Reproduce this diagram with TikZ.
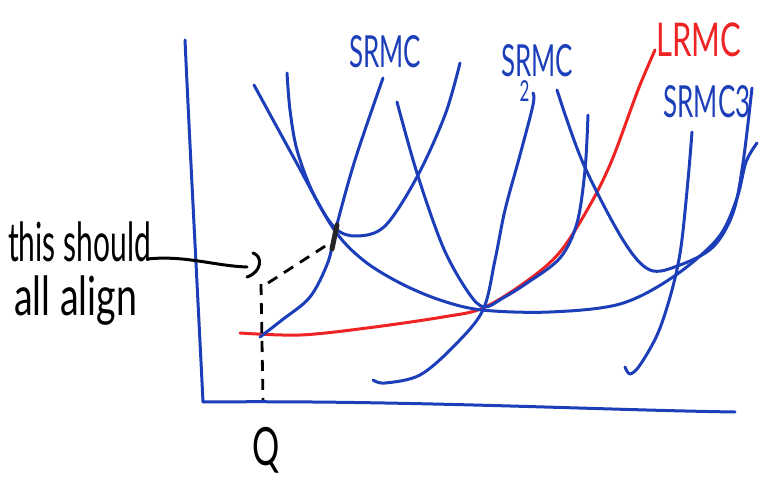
\documentclass[tikz,border=0pt]{standalone}
\usepackage{fontspec}
\usepackage{graphicx}
\setmainfont{Lato}
\definecolor{pen}{RGB}{28,62,185}
\definecolor{redpen}{RGB}{238,35,35}
\newcommand{\tall}[1]{\scalebox{1}[1.7]{#1}}
\begin{document}
\begin{tikzpicture}[x=1pt,y=-1pt,
  bl/.style={draw=pen,line width=3pt,line cap=round,line join=round},
  rd/.style={draw=redpen,line width=3pt,line cap=round,line join=round},
  bk/.style={draw=black,line width=3pt,line cap=round,line join=round},
  dsh/.style={draw=black,line width=2.8pt,dash pattern=on 11pt off 8pt},
  lab/.style={font=\fontsize{26}{28}\selectfont,text=pen,inner sep=0pt},
  note/.style={font=\fontsize{30}{32}\selectfont,text=black,inner sep=0pt}]
\useasboundingbox (0,0) rectangle (766,487);
% axes
\coordinate (ytop) at (185,40);
\coordinate (orig) at (203,402);
\coordinate (xend) at (735,412);
\draw[bl] (ytop) .. controls (190,150) and (198,300) .. (orig) .. controls (400,400) and (600,410) .. (xend);
% LRMC
\draw[rd] plot[smooth,tension=0.55] coordinates {(240,333) (300,335) (367,328) (443,317) (483,308) (527,281) (560,252) (590,205) (612,160) (638,90) (655,50)};
% long-run average cost
\draw[bl] plot[smooth,tension=0.55] coordinates {(254,85) (295,160) (333,228) (363,260) (400,283) (440,300) (482,310) (550,312) (620,304) (673,277) (718,238) (737,198) (746,162) (757,143)};
% SRAC1
\draw[bl] plot[smooth,tension=0.55] coordinates {(287,73) (290,110) (297,150) (313,193) (335,228) (357,236) (385,226) (417,177) (445,115) (460,63)};
% SRMC1
\draw[bl] plot[smooth,tension=0.55] coordinates {(260,337) (282,320) (310,297) (328,262) (336,228) (355,160) (383,78)};
% SRAC2
\draw[bl] plot[smooth,tension=0.55] coordinates {(397,102) (417,173) (443,247) (468,292) (484,307) (503,298) (527,283) (560,258) (577,223) (585,170) (588,115)};
% SRMC2
\draw[bl] plot[smooth,tension=0.55] coordinates {(373,380) (385,383) (420,375) (455,345) (483,310) (495,260) (505,210) (520,155) (533,105) (533,93)};
% SRAC3
\draw[bl] plot[smooth,tension=0.55] coordinates {(557,90) (583,163) (623,240) (650,270) (680,265) (713,247) (733,213) (743,163) (752,88)};
% SRMC3
\draw[bl] plot[smooth,tension=0.55] coordinates {(692,132) (688,180) (681,247) (672,290) (658,333) (640,365) (630,374) (625,367)};
% labels
\node[lab] (s1) at (385,52) {\tall{SRMC}};
\node[lab] (s2) at (537,73) {\tall{SR\rlap{\kern-0.45em\raisebox{-1.15ex}{\fontsize{17}{17}\selectfont 2}}MC}};
\node[lab] (s3) at (707,102) {\tall{SRMC3}};
\node[lab,text=redpen,font=\fontsize{31}{33}\selectfont] (lr) at (699,40) {\scalebox{1}[1.5]{LRMC}};
% note
\node[note,anchor=south west] (n1) at (8,262) {\scalebox{1}[1.8]{this should}};
\node[note,anchor=north west] (n2) at (14,276) {\scalebox{1.25}[1.8]{all align}};
\coordinate (a0) at (147,259);
\coordinate (a1) at (247,267);
\coordinate (h0) at (253,253);
\coordinate (h1) at (247,277);
\draw[bk] (a0) .. controls (185,255) and (215,266) .. (a1);
\draw[bk] (h0) .. controls (263,256) and (262,272) .. (h1);
% dashed guides
\coordinate (dtop) at (261,284);
\coordinate (dbot) at (263,400);
\coordinate (dd0) at (268,283);
\coordinate (dd1) at (330,243);
\draw[dsh] (dtop) -- (dbot);
\draw[dsh] (dd0) -- (dd1);
\coordinate (m0) at (337,225);
\coordinate (m1) at (332,249);
\draw[draw=black!85,line width=5pt,line cap=round] (m0) -- (m1);
\node[note,font=\fontsize{34}{36}\selectfont] (q) at (266,450) {\scalebox{1}[1.55]{Q}};
\end{tikzpicture}
\end{document}
